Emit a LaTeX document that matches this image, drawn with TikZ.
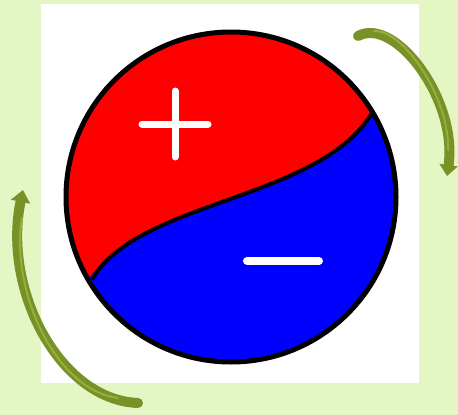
\documentclass[tikz,border=0pt]{standalone}
\usetikzlibrary{arrows.meta}
\definecolor{paleGreen}{RGB}{228,246,196}
\definecolor{oliveGreen}{RGB}{120,146,40}
\definecolor{oliveLight}{RGB}{148,176,58}
\begin{document}
\begin{tikzpicture}
% Charged ball with two turning arrows
\def\ballr{165}
\providecommand{\ballLineWidth}{5pt}
\providecommand{\splitLineWidth}{4pt}
\providecommand{\arrowLineWidth}{10pt}
\begin{scope}[x=1pt, y=-1pt, line cap=round, line join=round]
  \useasboundingbox (0,0) rectangle (458,415);
  % Background
  \fill[paleGreen] (0,0) rectangle (458,415);
  \fill[white] (41,4) rectangle (419,383);
  % Ball halves
  \coordinate (c) at (231,197);
  \coordinate (sl) at (93,278);
  \coordinate (sr) at (372,113);
  \fill[blue] (c) circle[radius=\ballr];
  \fill[red] (sr) arc[start angle=-30.5, end angle=-210.5, radius=\ballr]
    .. controls (140,200) and (320,200) .. (sr) -- cycle;
  \draw[black, line width=\splitLineWidth] (sl) .. controls (140,200) and (320,200) .. (sr);
  \draw[black, line width=\ballLineWidth] (c) circle[radius=\ballr];
  % Signs
  \begin{scope}[draw=white, line cap=round]
    \draw[line width=7pt] (142,124) -- (208,124);
    \draw[line width=7pt] (175,91) -- (175,157);
    \draw[line width=8pt] (247,261) -- (319,261);
  \end{scope}
  % Turning arrows
  \begin{scope}[draw=oliveGreen, line width=\arrowLineWidth]
    \draw[-{Triangle[width=18pt,length=11pt]}] (358,36) .. controls (395,16) and (458,100) .. (447,176);
    \draw[-{Triangle[width=19pt,length=12pt]}] (138,403) .. controls (60,400) and (2,290) .. (23,190);
  \end{scope}
  \begin{scope}[draw=oliveLight, line width=2pt]
    \draw (118,398) .. controls (55,390) and (10,290) .. (22,218);
    \draw (374,31) .. controls (405,30) and (450,100) .. (448,150);
  \end{scope}
\end{scope}
\end{tikzpicture}
\end{document}
